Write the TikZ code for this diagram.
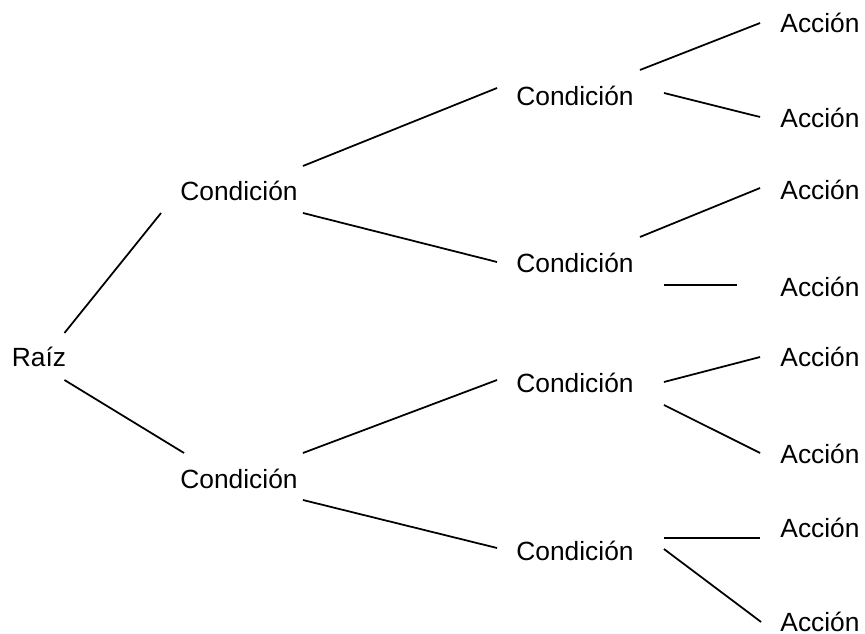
\documentclass[tikz,border=0pt]{standalone}
\usepackage{fontspec}
\setmainfont{Liberation Sans}
\begin{document}
\begin{tikzpicture}[x=0.02cm,y=-0.02cm,
    lbl/.style={anchor=base,inner sep=0pt,font=\fontsize{15}{18}\selectfont},
    rama/.style={line width=1pt,black}]
    \useasboundingbox (0,0) rectangle (865,634);

    % raiz y primer nivel
    \node[lbl] (raiz) at (39,367) {Raíz};
    \node[lbl] (c1) at (239,201) {Condición};
    \node[lbl] (c2) at (239,488) {Condición};

    % segundo nivel
    \node[lbl] (c11) at (575,106) {Condición};
    \node[lbl] (c12) at (575,273) {Condición};
    \node[lbl] (c21) at (575,393) {Condición};
    \node[lbl] (c22) at (575,560) {Condición};

    % hojas
    \node[lbl] (a1) at (820,33) {Acción};
    \node[lbl] (a2) at (820,128) {Acción};
    \node[lbl] (a3) at (820,200) {Acción};
    \node[lbl] (a4) at (820,297) {Acción};
    \node[lbl] (a5) at (820,367) {Acción};
    \node[lbl] (a6) at (820,463) {Acción};
    \node[lbl] (a7) at (820,537) {Acción};
    \node[lbl] (a8) at (820,631) {Acción};

    \draw[rama] ([shift={(-2,-34)}]raiz.base east) -- ([shift={(-19,12)}]c1.base west);
    \draw[rama] ([shift={(-2,13)}]raiz.base east) -- ([shift={(4,-35)}]c2.base west);

    \draw[rama] ([shift={(5,-35)}]c1.base east) -- ([shift={(-19,-18)}]c11.base west);
    \draw[rama] ([shift={(5,12)}]c1.base east) -- ([shift={(-19,-11)}]c12.base west);
    \draw[rama] ([shift={(5,-35)}]c2.base east) -- ([shift={(-19,-13)}]c21.base west);
    \draw[rama] ([shift={(5,12)}]c2.base east) -- ([shift={(-19,-12)}]c22.base west);

    \draw[rama] ([shift={(6,-36)}]c11.base east) -- ([shift={(-20,-10)}]a1.base west);
    \draw[rama] ([shift={(30,-13)}]c11.base east) -- ([shift={(-20,-11)}]a2.base west);
    \draw[rama] ([shift={(6,-36)}]c12.base east) -- ([shift={(-20,-12)}]a3.base west);
    \draw[rama] ([shift={(30,12)}]c12.base east) -- ([shift={(-43,-12)}]a4.base west);
    \draw[rama] ([shift={(30,-11)}]c21.base east) -- ([shift={(-20,-10)}]a5.base west);
    \draw[rama] ([shift={(30,12)}]c21.base east) -- ([shift={(-20,-10)}]a6.base west);
    \draw[rama] ([shift={(30,-22)}]c22.base east) -- ([shift={(-20,1)}]a7.base west);
    \draw[rama] ([shift={(30,-11)}]c22.base east) -- ([shift={(-19,-9)}]a8.base west);
\end{tikzpicture}
\end{document}
